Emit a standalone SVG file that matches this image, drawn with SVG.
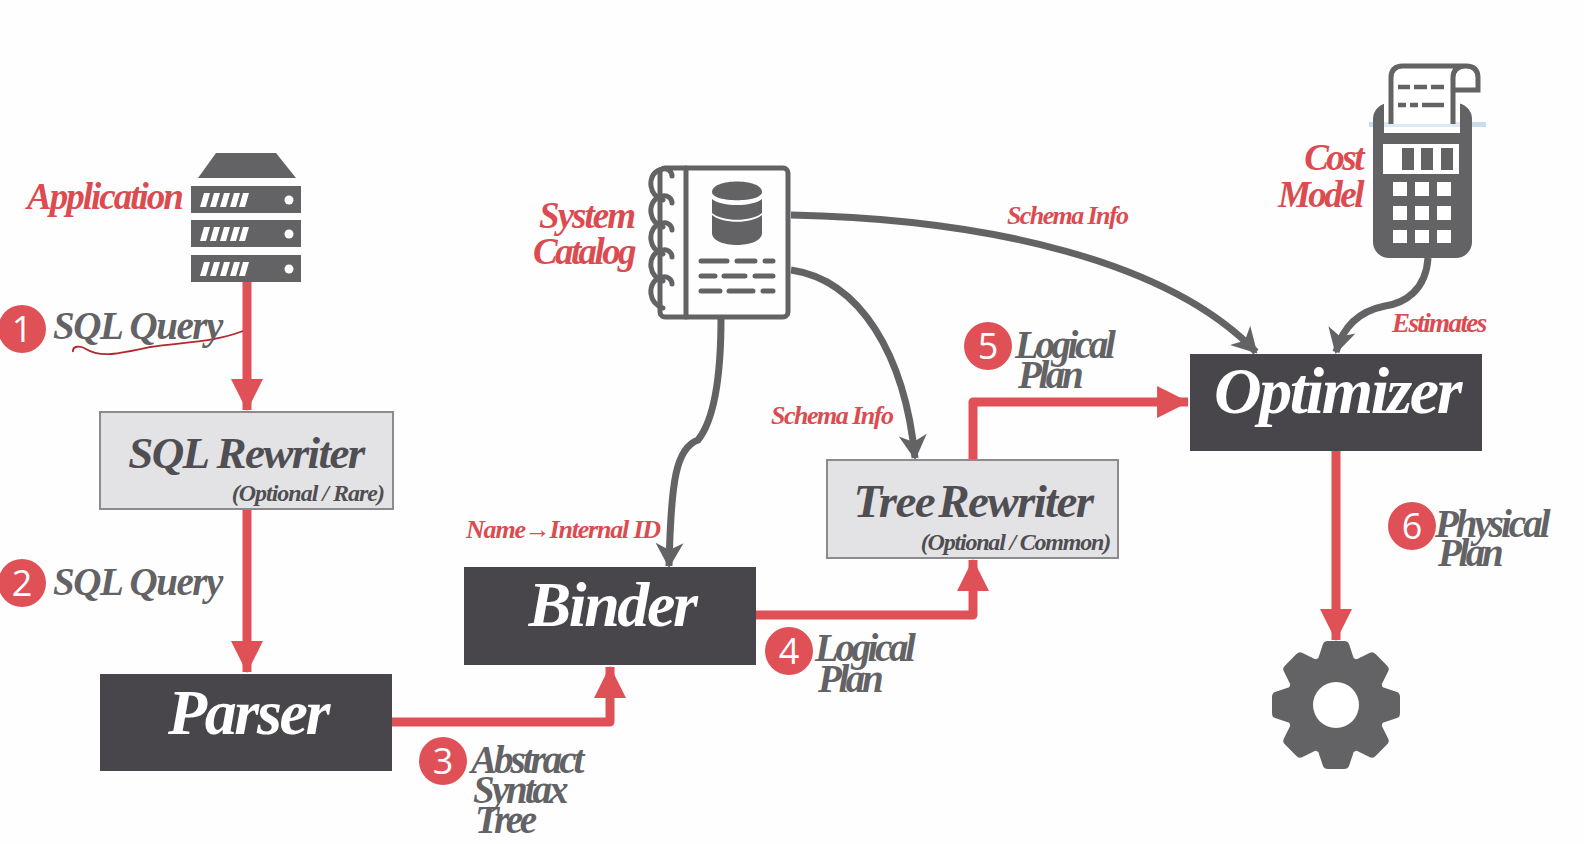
<svg xmlns="http://www.w3.org/2000/svg" xmlns:xlink="http://www.w3.org/1999/xlink" width="1584" height="844" viewBox="0 0 1584 844">
<style>
text{font-family:"Liberation Serif","Times New Roman",serif;font-style:italic;font-weight:700}
.g{fill:#636265}.r{fill:#df5156}
.lab{font-size:39px;letter-spacing:-1.4px;fill:#636265}
.lc{font-size:39px;letter-spacing:-3.4px;fill:#636265}
.rl{font-size:37px;letter-spacing:-2px;fill:#dc4b50}
.sl{font-size:26px;letter-spacing:-1.6px;fill:#dc4b50}
.big{font-size:64px;letter-spacing:-2.4px;fill:#fff;text-anchor:middle}
.mid{font-size:45px;letter-spacing:-1.6px;fill:#4f4e52;text-anchor:middle}
.sub{font-size:24px;letter-spacing:-1px;fill:#4f4e52;text-anchor:end}
.n{font-family:"Open Sans","Liberation Sans",sans-serif;font-style:normal;font-weight:400;font-size:36px;fill:#fff;text-anchor:middle}
.dk{fill:#48464a}.lt{fill:#e3e2e5;stroke:#8b8b8e;stroke-width:2}
.cr{fill:none;stroke:#df5156;stroke-width:9;stroke-linejoin:round}
.cg{fill:none;stroke:#636265;stroke-width:7}
.nb{fill:none;stroke:#636265;stroke-width:5;stroke-linecap:round;stroke-linejoin:round}
.w{fill:#fff}
</style>
<defs>
<marker id="ah" markerUnits="userSpaceOnUse" markerWidth="32" markerHeight="32" viewBox="0 0 30 30" refX="29" refY="15" orient="auto"><path d="M0 0L30 15L0 30Z" fill="#df5156"/></marker>
<marker id="ag" markerUnits="userSpaceOnUse" markerWidth="26" markerHeight="30" viewBox="0 0 26 30" refX="23" refY="15" orient="auto"><path d="M0 1L25 15L0 29L7 15Z" fill="#636265"/></marker>
<path id="tooth" d="M-18-46L-13-61Q-12-64-8-64H8Q12-64 13-61L18-46Z"/>
<g id="slot"><rect width="110" height="27" class="g"/><path d="M13 7h6l-4 14h-6zM23 7h6l-4 14h-6zM33 7h6l-4 14h-6zM43 7h6l-4 14h-6zM52 7h6l-4 14h-6z" class="w"/><circle cx="98" cy="14" r="4.5" class="w"/></g>
<path id="ring" d="M672 -10C672 -15 667 -18 663 -17C654 -16 650 -8 651 0C652 7 657 12 663 14"/>
</defs>
<rect width="1584" height="844" fill="#fefefe"/>

<g id="connectors">
<path class="cr" marker-end="url(#ah)" d="M247 281V410"/>
<path class="cr" marker-end="url(#ah)" d="M247 509V672"/>
<path class="cr" marker-end="url(#ah)" d="M392 722H610V667"/>
<path class="cr" marker-end="url(#ah)" d="M756 615H973V560"/>
<path class="cr" marker-end="url(#ah)" d="M973 460V402H1188"/>
<path class="cr" marker-end="url(#ah)" d="M1336 451V640"/>
<path class="cg" marker-end="url(#ag)" d="M791 215C990 219 1170 262 1256 352"/>
<path class="cg" marker-end="url(#ag)" d="M791 270C860 280 905 355 915 458"/>
<path class="cg" marker-end="url(#ag)" d="M721 318C721 380 714 420 698 440C676 448 671 480 669 566"/>
<path class="cg" marker-end="url(#ag)" d="M1428 258C1426 290 1405 303 1385 306C1365 310 1344 322 1336 352"/>
<path fill="none" stroke="#b3272d" stroke-width="1.8" d="M73 352C72 346 80 345 86 349C100 358 118 354 150 347C185 342 215 342 243 331"/>
</g>

<g id="application">
<path class="g" d="M216 153H276L296 178H198Z"/>
<use xlink:href="#slot" href="#slot" x="191" y="186"/>
<use xlink:href="#slot" href="#slot" x="191" y="220"/>
<use xlink:href="#slot" href="#slot" x="191" y="255"/>
<text class="rl" x="27" y="209">Application</text>
</g>

<g id="system-catalog">
<rect class="nb" x="660" y="168" width="128" height="149" rx="5"/>
<path class="nb" d="M686 168V317"/>
<g class="nb"><use xlink:href="#ring" href="#ring" y="186"/><use xlink:href="#ring" href="#ring" y="213"/><use xlink:href="#ring" href="#ring" y="240"/><use xlink:href="#ring" href="#ring" y="267"/><use xlink:href="#ring" href="#ring" y="294"/></g>
<path class="g" d="M712 192C712 178 762 178 762 192C762 203 712 203 712 192Z"/>
<path class="g" d="M712 199C722 207 752 207 762 199V213C752 222 722 222 712 213Z"/>
<path class="g" d="M712 215C722 224 752 224 762 215V233C762 249 712 249 712 233Z"/>
<path fill="none" stroke="#636265" stroke-width="5" stroke-linecap="round" d="M701 261H727M737 261H755M765 261H773M701 276H715M724 276H745M755 276H773M701 291H720M729 291H753M763 291H773"/>
<text class="rl" x="634" y="228" text-anchor="end">System</text>
<text class="rl" x="634" y="264" text-anchor="end" style="letter-spacing:-2.6px">Catalog</text>
</g>

<g id="cost-model">
<rect x="1369" y="122" width="117" height="5" fill="#c9dcee"/>
<rect class="g" x="1373" y="103" width="99" height="155" rx="16"/>
<rect class="w" x="1384" y="100" width="76" height="33"/>
<rect x="1384" y="122" width="76" height="5" fill="#dfe9f3"/>
<path fill="#fff" stroke="#636265" stroke-width="5" d="M1391 124V78Q1391 66 1403 66H1466Q1478 66 1478 78V90H1453V124M1453 90V78Q1453 66 1466 66"/>
<path fill="none" stroke="#636265" stroke-width="4.5" d="M1398 87H1410M1414 87H1427M1431 87H1444M1398 105H1406M1410 105H1418M1422 105H1444"/>
<rect class="w" x="1383" y="144" width="76" height="30"/>
<path class="g" d="M1402 148h12v22h-12zM1421 148h12v22h-12zM1441 148h12v22h-12z"/>
<path class="w" d="M1393 182h14v14h-14zM1415 182h14v14h-14zM1437 182h14v14h-14zM1393 206h14v14h-14zM1415 206h14v14h-14zM1437 206h14v14h-14zM1393 230h14v13h-14zM1415 230h14v13h-14zM1437 230h14v13h-14z"/>
<text class="rl" x="1362" y="170" text-anchor="end" style="letter-spacing:-2.5px">Cost</text>
<text class="rl" x="1362" y="207" text-anchor="end" style="letter-spacing:-2.5px">Model</text>
</g>

<g id="sql-rewriter"><rect class="lt" x="100" y="412" width="293" height="97"/><text class="mid" x="246" y="468">SQL Rewriter</text><text class="sub" x="384" y="501">(Optional / Rare)</text></g>
<g id="parser"><rect class="dk" x="100" y="674" width="292" height="97"/><text class="big" x="248" y="734">Parser</text></g>
<g id="binder"><rect class="dk" x="464" y="567" width="292" height="98"/><text class="big" x="612" y="626">Binder</text></g>
<g id="tree-rewriter"><rect class="lt" x="827" y="460" width="291" height="98"/><text class="mid" x="973" y="517" style="font-size:47px;word-spacing:-6px">Tree Rewriter</text><text class="sub" x="1110" y="550" style="letter-spacing:-1.2px">(Optional / Common)</text></g>
<g id="optimizer"><rect class="dk" x="1190" y="354" width="292" height="97"/><text class="big" x="1337" y="413" style="font-size:66px">Optimizer</text></g>

<g id="executor" class="g"><circle cx="1336" cy="705" r="50"/>
<g transform="translate(1336 705)"><use xlink:href="#tooth" href="#tooth"/><use xlink:href="#tooth" href="#tooth" transform="rotate(45)"/><use xlink:href="#tooth" href="#tooth" transform="rotate(90)"/><use xlink:href="#tooth" href="#tooth" transform="rotate(135)"/><use xlink:href="#tooth" href="#tooth" transform="rotate(180)"/><use xlink:href="#tooth" href="#tooth" transform="rotate(225)"/><use xlink:href="#tooth" href="#tooth" transform="rotate(270)"/><use xlink:href="#tooth" href="#tooth" transform="rotate(315)"/></g>
<circle class="w" cx="1336" cy="705" r="23"/></g>

<g id="step-1"><circle class="r" cx="22" cy="329" r="24"/><text class="n" x="22" y="342">1</text><text class="lab" x="53" y="339">SQL Query</text></g>
<g id="step-2"><circle class="r" cx="22" cy="583" r="24"/><text class="n" x="22" y="596">2</text><text class="lab" x="53" y="595">SQL Query</text></g>
<g id="step-3"><circle class="r" cx="443" cy="761" r="24"/><text class="n" x="443" y="774">3</text><text class="lc" x="471" y="773" style="letter-spacing:-3px">Abstract</text><text class="lc" x="473" y="803" style="letter-spacing:-3px">Syntax</text><text class="lc" x="475" y="833">Tree</text></g>
<g id="step-4"><circle class="r" cx="789" cy="651" r="24"/><text class="n" x="789" y="664">4</text><text class="lc" x="815" y="661">Logical</text><text class="lc" x="818" y="692">Plan</text></g>
<g id="step-5"><circle class="r" cx="988" cy="346" r="24"/><text class="n" x="988" y="359">5</text><text class="lc" x="1015" y="358">Logical</text><text class="lc" x="1018" y="388">Plan</text></g>
<g id="step-6"><circle class="r" cx="1412" cy="526" r="24"/><text class="n" x="1412" y="539">6</text><text class="lc" x="1435" y="537" style="letter-spacing:-3px">Physical</text><text class="lc" x="1438" y="566">Plan</text></g>

<g id="labels">
<text class="sl" x="1007" y="224">Schema Info</text>
<text class="sl" x="771" y="424" style="letter-spacing:-1.5px">Schema Info</text>
<text class="sl" x="466" y="538" style="letter-spacing:-1.2px">Name→Internal ID</text>
<text class="sl" x="1392" y="332" style="font-size:27px">Estimates</text>
</g>
</svg>
